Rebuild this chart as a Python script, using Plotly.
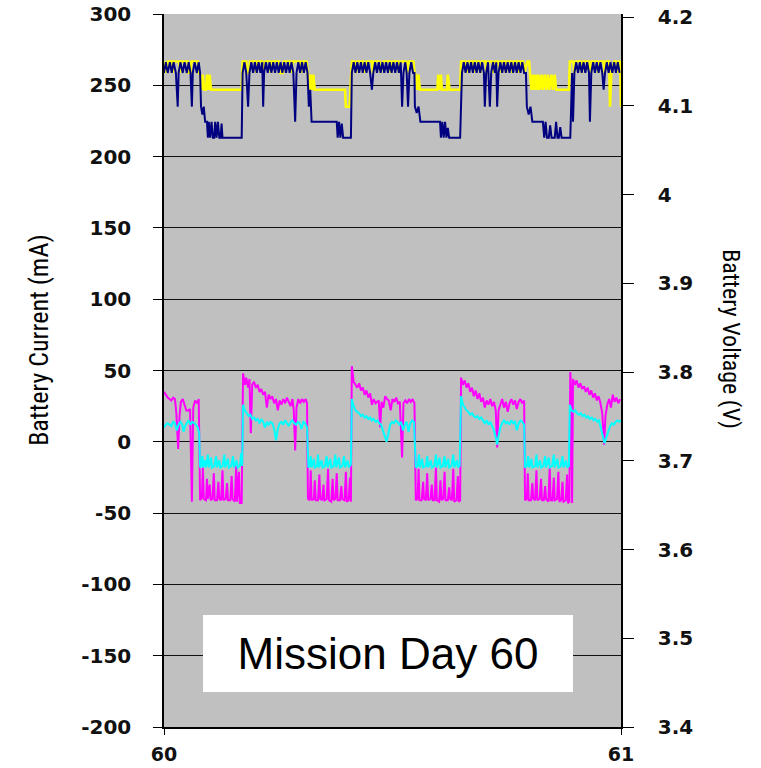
import plotly.graph_objects as go

# ---------------- data ----------------
# Battery current, magenta trace (mA)
mag_t = [60.000,60.004,60.008,60.012,60.016,60.020,60.024,60.027,60.031,60.034,60.037,60.041,60.045,60.049,60.053,60.057,60.061,60.064,60.068,60.072,60.076,
         60.079,60.083,60.085,60.087,60.092,60.094,60.096,60.100,60.102,60.106,60.109,60.111,60.116,60.119,60.121,60.125,60.128,60.130,60.135,60.138,60.140,60.145,60.148,60.150,60.155,60.158,60.160,60.164,60.166,60.170,
         60.173,60.177,60.180,60.184,60.187,60.190,60.193,60.197,60.201,60.205,60.209,60.213,60.217,60.221,60.225,60.229,60.233,60.237,60.241,60.245,60.249,60.253,60.257,60.261,60.265,60.269,60.273,60.277,60.281,60.284,60.287,60.290,60.294,60.298,60.302,60.306,60.310,60.313,
         60.315,60.319,60.321,60.323,60.328,60.330,60.332,60.337,60.340,60.342,60.346,60.349,60.351,60.356,60.359,60.361,60.366,60.369,60.371,60.375,60.378,60.380,60.385,60.388,60.390,60.395,60.398,60.400,60.404,60.407,60.409,
         60.411,60.415,60.419,60.423,60.427,60.431,60.435,60.439,60.443,60.447,60.451,60.455,60.459,60.463,60.470,60.473,60.476,60.480,60.484,60.488,60.492,60.496,60.500,60.504,60.508,60.512,60.516,60.521,60.524,60.528,60.532,60.536,60.540,60.544,60.548,
         60.551,60.555,60.557,60.559,60.564,60.567,60.569,60.573,60.576,60.578,60.583,60.586,60.588,60.592,60.595,60.597,60.602,60.605,60.607,60.611,60.614,60.616,60.621,60.624,60.626,60.630,60.633,60.635,60.640,60.643,60.645,60.648,
         60.650,60.654,60.658,60.662,60.666,60.670,60.674,60.678,60.682,60.686,60.690,60.694,60.698,60.702,60.706,60.710,60.714,60.718,60.722,60.726,60.729,60.732,60.736,60.740,60.744,60.748,60.752,60.756,60.760,60.764,60.768,60.772,60.776,60.780,60.784,60.788,
         60.790,60.794,60.796,60.798,60.803,60.806,60.808,60.812,60.815,60.817,60.822,60.825,60.827,60.831,60.834,60.836,60.841,60.844,60.846,60.850,60.853,60.855,60.860,60.863,60.865,60.869,60.872,60.874,60.879,60.882,60.884,60.887,
         60.889,60.891,60.893,60.895,60.899,60.903,60.907,60.911,60.915,60.919,60.923,60.927,60.931,60.935,60.939,60.943,60.947,60.951,60.955,60.959,60.963,60.966,60.970,60.974,60.978,60.982,60.986,60.990,60.994,60.998]
mag_ma = [35,33,31,30,29,31,30,20,-5,18,28,30,26,22,22,23,-42,24,29,27,30,
          -41,-39,-18,-40,-41,-26,-40,-30,-41,-40,-22,-41,-41,-28,-40,-41,-20,-41,-40,-29,-41,-41,-24,-40,-42,-17,-42,-21,-43,-43,
          48,40,45,38,44,6,40,42,38,40,35,37,33,35,24,33,30,32,27,30,22,29,26,30,27,31,28,25,30,22,-6,24,30,27,30,28,30,27,
          -40,-41,-20,-41,-40,-27,-41,-41,-23,-40,-41,-30,-41,-40,-19,-41,-42,-26,-41,-40,-22,-41,-41,-31,-40,-41,-21,-42,-41,-25,-42,
          53,42,40,38,41,36,38,33,36,31,34,26,30,27,29,10,28,24,32,30,29,22,30,28,31,27,28,-11,27,29,27,30,28,30,27,
          -41,-40,-19,-41,-41,-28,-40,-41,-22,-41,-40,-30,-41,-41,-18,-41,-42,-27,-41,-40,-21,-41,-41,-32,-40,-41,-19,-42,-41,-24,-42,-41,
          45,40,43,38,41,35,38,32,36,30,34,28,31,24,29,26,30,25,28,22,-4,22,27,30,24,28,21,27,30,26,29,23,28,30,27,29,
          -41,-40,-22,-41,-41,-29,-40,-41,-20,-41,-40,-26,-41,-41,-31,-40,-42,-18,-41,-41,-25,-41,-40,-21,-42,-41,-28,-42,-41,-23,-43,-42,
          49,36,-43,44,40,43,38,41,37,39,35,38,33,36,31,34,29,32,27,20,-2,18,26,30,24,33,28,31,27,30]

# Battery current, cyan trace (mA)
cyan_t = [60.000,60.004,60.008,60.012,60.016,60.020,60.024,60.028,60.032,60.036,60.040,60.043,60.046,60.050,60.054,60.058,60.062,60.066,60.070,60.074,60.077,
          60.079,60.082,60.084,60.086,60.090,60.092,60.096,60.098,60.103,60.105,60.110,60.114,60.116,60.121,60.123,60.128,60.132,60.134,60.140,60.142,60.147,60.151,60.153,60.159,60.161,60.166,60.169,60.171,
          60.173,60.177,60.181,60.185,60.189,60.193,60.197,60.201,60.205,60.209,60.213,60.217,60.221,60.225,60.229,60.233,60.237,60.241,60.245,60.249,60.253,60.257,60.261,60.265,60.269,60.273,60.277,60.281,60.285,60.289,60.293,60.297,60.301,60.305,60.309,60.313,
          60.316,60.319,60.321,60.323,60.328,60.330,60.335,60.337,60.339,60.345,60.347,60.352,60.356,60.358,60.364,60.366,60.371,60.375,60.377,60.383,60.385,60.390,60.394,60.396,60.402,60.404,60.409,
          60.411,60.415,60.419,60.423,60.427,60.431,60.435,60.439,60.443,60.447,60.451,60.455,60.459,60.463,60.467,60.471,60.475,60.479,60.483,60.487,60.491,60.495,60.499,60.503,60.507,60.511,60.515,60.519,60.523,60.527,60.531,60.535,60.539,60.543,60.547,
          60.551,60.555,60.558,60.560,60.565,60.567,60.573,60.576,60.578,60.584,60.586,60.591,60.595,60.597,60.603,60.605,60.610,60.614,60.616,60.622,60.624,60.629,60.633,60.635,60.641,60.643,60.647,
          60.650,60.654,60.658,60.662,60.666,60.670,60.674,60.678,60.682,60.686,60.690,60.694,60.698,60.702,60.706,60.710,60.714,60.718,60.722,60.726,60.729,60.732,60.736,60.740,60.744,60.748,60.752,60.756,60.760,60.764,60.768,60.772,60.776,60.780,60.784,60.788,
          60.790,60.794,60.797,60.799,60.804,60.806,60.812,60.815,60.817,60.823,60.825,60.830,60.834,60.836,60.842,60.844,60.849,60.853,60.855,60.861,60.863,60.868,60.872,60.874,60.880,60.882,60.886,
          60.888,60.892,60.896,60.900,60.904,60.908,60.912,60.916,60.920,60.924,60.928,60.932,60.936,60.940,60.944,60.948,60.952,60.956,60.960,60.964,60.968,60.972,60.976,60.980,60.984,60.988,60.992,60.996,61.000]
cyan_ma = [10,12,13,12,11,14,13,8,12,14,12,7,11,13,15,12,14,13,12,10,6,
           -18,-17,-10,-18,-13,-18,-9,-18,-11,-18,-17,-10,-18,-13,-18,-17,-9,-18,-12,-18,-17,-10,-18,-13,-18,-17,-8,-17,
           26,22,20,18,19,16,17,15,16,13,16,14,10,14,12,14,13,9,1,9,13,14,12,15,13,11,14,15,13,12,14,13,9,14,13,10,
           -18,-17,-10,-18,-12,-18,-17,-9,-18,-13,-18,-17,-10,-18,-12,-18,-17,-9,-18,-11,-18,-17,-10,-18,-13,-18,-16,
           30,25,22,21,20,18,19,17,18,16,17,15,16,14,15,13,12,8,3,0,6,12,14,13,15,14,12,14,8,12,14,7,13,15,14,
           -18,-17,-9,-18,-12,-18,-17,-10,-18,-13,-18,-17,-9,-18,-11,-18,-17,-10,-18,-12,-18,-17,-9,-18,-13,-18,-17,
           32,26,24,22,21,19,20,18,17,18,16,17,15,13,15,12,14,11,8,3,-2,4,10,13,15,13,14,12,15,13,14,8,13,15,14,12,
           -18,-17,-10,-18,-12,-18,-17,-9,-18,-13,-18,-17,-10,-18,-11,-18,-17,-9,-18,-12,-18,-17,-10,-18,-13,-18,-17,
           26,22,21,22,20,19,20,18,19,17,18,16,17,15,16,14,15,10,5,-1,3,8,11,13,12,14,15,14,15]

# Battery voltage, yellow trace (V)
yel_t = [60.000,60.004,60.008,60.017,60.019,60.022,60.033,60.035,60.038,60.052,60.054,60.058,60.060,60.074,60.076,
         60.079,60.082,60.085,60.088,60.092,60.094,60.097,60.100,60.103,60.170,
         60.172,60.180,60.182,60.186,60.188,60.200,60.202,60.205,60.215,60.217,60.222,60.232,60.234,60.238,60.252,60.254,60.260,60.262,60.276,60.278,60.282,60.298,60.300,60.304,60.312,
         60.315,60.318,60.321,60.324,60.327,60.330,60.396,60.398,60.406,60.408,
         60.411,60.418,60.420,60.424,60.436,60.438,60.443,60.455,60.457,60.461,60.472,60.474,60.480,60.494,60.496,60.500,60.512,60.514,60.518,60.530,60.532,60.536,60.546,60.548,
         60.551,60.554,60.557,60.560,60.598,60.600,60.603,60.606,60.608,60.619,60.621,60.625,60.648,
         60.650,60.660,60.662,60.666,60.676,60.678,60.681,60.690,60.692,60.696,60.704,60.706,60.710,60.718,60.720,60.724,60.732,60.734,60.738,60.746,60.748,60.752,60.760,60.762,60.766,60.774,60.776,60.779,60.786,60.789,60.795,60.799,
         60.801,60.804,60.807,60.810,60.813,60.816,60.819,60.822,60.826,60.829,60.833,60.836,60.840,60.843,60.848,60.851,60.855,60.858,60.886,
         60.888,60.896,60.898,60.902,60.912,60.914,60.918,60.930,60.932,60.936,60.948,60.950,60.954,60.962,60.964,60.968,60.974,60.976,60.979,60.985,60.990,60.992,60.996,60.998,61.000]
yel_v = [4.150,4.137,4.150,4.150,4.137,4.150,4.150,4.137,4.150,4.150,4.137,4.137,4.150,4.150,4.137,
         4.135,4.118,4.135,4.118,4.118,4.135,4.118,4.135,4.118,4.118,
         4.150,4.150,4.137,4.137,4.150,4.150,4.137,4.150,4.150,4.137,4.150,4.150,4.137,4.150,4.150,4.137,4.137,4.150,4.150,4.137,4.150,4.150,4.137,4.150,4.150,
         4.135,4.118,4.135,4.118,4.135,4.118,4.118,4.099,4.099,4.118,
         4.150,4.150,4.137,4.150,4.150,4.137,4.150,4.150,4.137,4.150,4.150,4.137,4.150,4.150,4.137,4.150,4.150,4.137,4.150,4.150,4.137,4.150,4.150,4.137,
         4.135,4.118,4.135,4.118,4.118,4.135,4.118,4.135,4.118,4.118,4.135,4.118,4.118,
         4.150,4.150,4.137,4.150,4.150,4.137,4.150,4.150,4.137,4.150,4.150,4.137,4.150,4.150,4.137,4.150,4.150,4.137,4.150,4.150,4.137,4.150,4.150,4.137,4.150,4.150,4.137,4.150,4.150,4.137,4.150,4.150,
         4.135,4.118,4.135,4.118,4.135,4.118,4.135,4.118,4.135,4.118,4.135,4.118,4.135,4.118,4.135,4.118,4.135,4.118,4.118,
         4.150,4.150,4.137,4.150,4.150,4.137,4.150,4.150,4.137,4.150,4.150,4.137,4.150,4.150,4.137,4.150,4.150,4.099,4.137,4.150,4.150,4.137,4.150,4.150,4.099]

# Battery voltage, navy trace (V)
blue_t = [60.000,60.004,60.008,60.013,60.017,60.021,60.026,60.030,60.032,60.036,60.041,60.045,60.050,60.054,60.058,60.061,60.063,60.067,60.072,60.076,
          60.079,60.081,60.084,60.087,60.090,60.094,60.096,60.098,60.101,60.104,60.107,60.110,60.112,60.115,60.118,60.121,60.124,60.126,60.128,60.170,
          60.172,60.176,60.180,60.184,60.187,60.191,60.195,60.199,60.203,60.207,60.211,60.215,60.217,60.219,60.223,60.227,60.231,60.235,60.239,60.243,60.247,60.251,60.255,60.259,60.263,60.267,60.271,60.275,60.279,60.283,60.287,60.290,60.294,60.298,60.302,60.306,60.310,60.314,
          60.317,60.320,60.323,60.330,60.378,60.380,60.383,60.386,60.389,60.392,60.409,
          60.411,60.415,60.419,60.423,60.427,60.431,60.435,60.439,60.443,60.447,60.451,60.455,60.458,60.462,60.466,60.470,60.474,60.478,60.482,60.486,60.490,60.494,60.498,60.502,60.506,60.510,60.514,60.518,60.521,60.524,60.528,60.531,60.534,60.537,60.541,60.545,60.548,
          60.549,60.553,60.557,60.561,60.567,60.604,60.606,60.609,60.612,60.615,60.618,60.621,60.624,60.648,
          60.652,60.656,60.660,60.664,60.668,60.672,60.676,60.680,60.684,60.688,60.692,60.696,60.700,60.702,60.705,60.709,60.713,60.716,60.720,60.724,60.727,60.729,60.732,60.736,60.740,60.744,60.748,60.752,60.756,60.760,60.764,60.768,60.772,60.776,60.780,60.784,60.788,60.792,
          60.794,60.798,60.802,60.806,60.829,60.832,60.835,60.838,60.842,60.845,60.848,60.855,60.858,60.861,60.864,60.867,60.870,60.889,
          60.893,60.895,60.898,60.902,60.906,60.910,60.914,60.918,60.922,60.926,60.930,60.932,60.935,60.939,60.943,60.947,60.951,60.955,60.959,60.962,60.965,60.969,60.973,60.977,60.981,60.985,60.989,60.993,60.997]
blue_v = [4.137,4.149,4.137,4.149,4.137,4.149,4.137,4.099,4.137,4.149,4.137,4.149,4.137,4.149,4.137,4.099,4.137,4.149,4.137,4.149,
          4.137,4.099,4.090,4.099,4.082,4.082,4.064,4.082,4.064,4.082,4.064,4.064,4.082,4.064,4.082,4.064,4.064,4.080,4.064,4.064,
          4.137,4.149,4.137,4.099,4.137,4.149,4.137,4.149,4.137,4.149,4.137,4.149,4.099,4.137,4.149,4.137,4.149,4.137,4.149,4.137,4.149,4.137,4.149,4.137,4.149,4.137,4.149,4.137,4.149,4.137,4.082,4.137,4.149,4.137,4.149,4.137,4.149,4.137,
          4.099,4.118,4.082,4.082,4.082,4.064,4.082,4.064,4.080,4.064,4.064,
          4.137,4.149,4.137,4.149,4.137,4.149,4.137,4.149,4.137,4.149,4.137,4.118,4.137,4.149,4.137,4.149,4.137,4.149,4.137,4.149,4.137,4.149,4.137,4.149,4.137,4.149,4.137,4.149,4.099,4.137,4.149,4.137,4.099,4.137,4.149,4.137,4.137,
          4.099,4.092,4.099,4.082,4.082,4.082,4.064,4.082,4.064,4.082,4.064,4.075,4.064,4.064,
          4.137,4.149,4.137,4.149,4.137,4.149,4.137,4.149,4.137,4.149,4.137,4.149,4.137,4.099,4.137,4.149,4.099,4.137,4.149,4.137,4.149,4.099,4.137,4.149,4.137,4.149,4.137,4.149,4.137,4.149,4.137,4.149,4.137,4.149,4.137,4.149,4.137,4.137,
          4.099,4.090,4.099,4.082,4.082,4.064,4.082,4.064,4.064,4.078,4.064,4.064,4.082,4.064,4.064,4.076,4.064,4.064,
          4.137,4.082,4.137,4.149,4.137,4.149,4.137,4.149,4.137,4.149,4.137,4.082,4.137,4.149,4.137,4.149,4.137,4.149,4.137,4.118,4.137,4.149,4.137,4.149,4.137,4.149,4.137,4.149,4.137]

# axis ticks
x_ticks = [60, 61]
x_tick_labels = ["60", "61"]
current_ticks = [300, 250, 200, 150, 100, 50, 0, -50, -100, -150, -200]
current_tick_labels = ["300", "250", "200", "150", "100", "50", "0", "-50", "-100", "-150", "-200"]
voltage_ticks = [4.2, 4.1, 4.0, 3.9, 3.8, 3.7, 3.6, 3.5, 3.4]
voltage_tick_labels = ["4.2", "4.1", "4", "3.9", "3.8", "3.7", "3.6", "3.5", "3.4"]

# ---------------- figure ----------------
fig = go.Figure()
fig.add_trace(go.Scatter(x=mag_t, y=mag_ma, mode="lines", line=dict(color="#ff00ff", width=2), yaxis="y", hoverinfo="skip"))
fig.add_trace(go.Scatter(x=cyan_t, y=cyan_ma, mode="lines", line=dict(color="#00ffff", width=2), yaxis="y", hoverinfo="skip"))
fig.add_trace(go.Scatter(x=yel_t, y=yel_v, mode="lines", line=dict(color="#ffff00", width=2.5), yaxis="y2", hoverinfo="skip"))
fig.add_trace(go.Scatter(x=blue_t, y=blue_v, mode="lines", line=dict(color="#000080", width=2), yaxis="y2", hoverinfo="skip"))

tickfont = dict(family="DejaVu Sans, Arial, sans-serif", size=20, color="#111111", weight="bold")
xtickfont = dict(family="DejaVu Sans, Arial, sans-serif", size=19, color="#111111", weight="bold")
title_font_family = "Roboto Condensed, Liberation Sans Narrow, DejaVu Sans Condensed, Liberation Sans, sans-serif"

fig.update_layout(
    width=761, height=768,
    margin=dict(l=164, r=140, t=14, b=41, autoexpand=False),
    paper_bgcolor="white", plot_bgcolor="#c0c0c0",
    showlegend=False,
    xaxis=dict(range=[60, 61], tickvals=x_ticks, ticktext=x_tick_labels, showgrid=False, zeroline=False,
               showline=True, linecolor="black", linewidth=1.5, ticks="outside", ticklen=6, tickcolor="black",
               tickfont=xtickfont, ticklabelstandoff=3, automargin=False),
    yaxis=dict(range=[-200, 300], tickvals=current_ticks, ticktext=current_tick_labels, showgrid=True,
               gridcolor="#111111", gridwidth=1,
               zeroline=False, showline=True, linecolor="black", linewidth=1.5, ticks="outside", ticklen=9,
               tickcolor="black", tickfont=tickfont, ticklabelstandoff=18, automargin=False),
    yaxis2=dict(range=[3.4, 4.2034], overlaying="y", side="right", tickvals=voltage_ticks, ticktext=voltage_tick_labels,
                showgrid=False, zeroline=False, showline=True, linecolor="black", linewidth=1.5, ticks="outside",
                ticklen=11, tickcolor="black", tickfont=tickfont, ticklabelstandoff=20, automargin=False),
    annotations=[
        dict(text="Battery Current (mA)", xref="paper", yref="paper", x=-0.2735, y=0.543, textangle=-90,
             showarrow=False, xanchor="center", yanchor="middle",
             font=dict(family=title_font_family, size=26, color="black")),
        dict(text="Battery Voltage (V)", xref="paper", yref="paper", x=1.2407, y=0.544, textangle=90,
             showarrow=False, xanchor="center", yanchor="middle",
             font=dict(family=title_font_family, size=24, color="black")),
        dict(text="Mission Day 60", xref="paper", yref="paper", x=0.490, y=0.103, showarrow=False,
             xanchor="center", yanchor="middle", width=370, height=77, borderpad=0, borderwidth=0,
             bgcolor="white", font=dict(family="Liberation Sans, Arial, sans-serif", size=44, color="black")),
    ],
)

fig.write_html("out.html")
